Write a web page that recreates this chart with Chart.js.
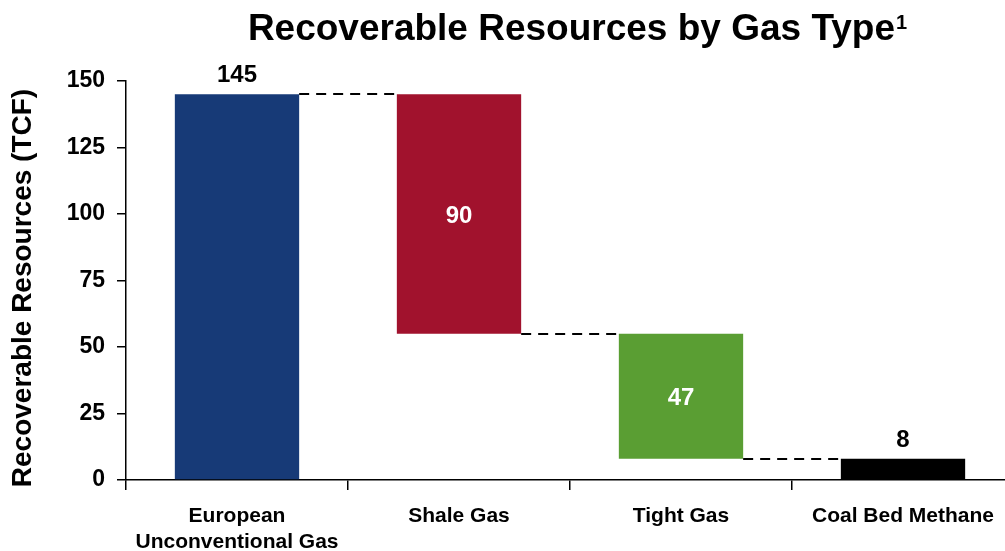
<!DOCTYPE html>
<html>
<head>
<meta charset="utf-8">
<script src="https://cdn.jsdelivr.net/npm/chart.js@4/dist/chart.umd.min.js"></script>
<style>
  html, body { margin: 0; padding: 0; background: #ffffff; overflow: hidden; width: 1005px; height: 551px; }
  #wrap { position: absolute; left: 0; top: 0; width: 1020px; height: 551px; }
</style>
</head>
<body>
<div id="wrap"><canvas id="c" width="1020" height="551"></canvas></div>
<script>
// ---- data ----
const categories = [["European", "Unconventional Gas"], "Shale Gas", "Tight Gas", "Coal Bed Methane"];
const values = [145, 90, 47, 8];
const kinds = ["total", "decrease", "decrease", "total"];
const barColors = ["#173A77", "#A1122D", "#5A9E33", "#000000"];
const labelColors = ["#000000", "#ffffff", "#ffffff", "#000000"];
const yTicks = [0, 25, 50, 75, 100, 125, 150];
const chartTitle = "Recoverable Resources by Gas Type";
const titleNote = "1";
const yTitle = "Recoverable Resources (TCF)";

// build floating ranges for the waterfall
const ranges = [];
const levels = [];
let running = 0;
values.forEach((v, i) => {
  if (kinds[i] === "total") { ranges.push([0, v]); running = v; }
  else { ranges.push([running - v, running]); running -= v; }
  levels.push(running);
});

const FONT = "'Liberation Sans', Arial, Helvetica, sans-serif";

const waterfallPlugin = {
  id: "waterfall",
  afterDatasetsDraw(chart) {
    const ctx = chart.ctx;
    const meta = chart.getDatasetMeta(0);
    const y = chart.scales.y;
    ctx.save();
    // connectors
    ctx.strokeStyle = "#000";
    ctx.lineWidth = 2;
    ctx.setLineDash([10, 7]);
    for (let i = 0; i < meta.data.length - 1; i++) {
      const a = meta.data[i], b = meta.data[i + 1];
      const py = Math.round(y.getPixelForValue(levels[i]));
      ctx.beginPath();
      ctx.moveTo(a.x + a.width / 2, py);
      ctx.lineTo(b.x - b.width / 2, py);
      ctx.stroke();
    }
    ctx.setLineDash([]);
    // value labels
    ctx.font = "bold 24px " + FONT;
    ctx.textAlign = "center";
    meta.data.forEach((bar, i) => {
      const top = y.getPixelForValue(ranges[i][1]);
      const bot = y.getPixelForValue(ranges[i][0]);
      ctx.fillStyle = labelColors[i];
      if (kinds[i] === "total") {
        ctx.textBaseline = "alphabetic";
        ctx.fillText(String(values[i]), bar.x, top - 12);
      } else {
        ctx.textBaseline = "middle";
        ctx.fillText(String(values[i]), bar.x, (top + bot) / 2 + 2);
      }
    });
    ctx.restore();
  },
  afterDraw(chart) {
    const ctx = chart.ctx;
    ctx.save();
    ctx.fillStyle = "#000";
    ctx.textBaseline = "alphabetic";
    ctx.textAlign = "left";
    ctx.font = "bold 37px " + FONT;
    const w1 = ctx.measureText(chartTitle).width;
    ctx.font = "bold 20px " + FONT;
    const w2 = ctx.measureText(titleNote).width;
    const x0 = 577 - (w1 + w2) / 2;
    ctx.font = "bold 37px " + FONT;
    ctx.fillText(chartTitle, x0, 40);
    ctx.font = "bold 20px " + FONT;
    ctx.fillText(titleNote, x0 + w1 + 1, 29);
    // y axis title
    ctx.translate(23, 288);
    ctx.rotate(-Math.PI / 2);
    ctx.textAlign = "center";
    ctx.textBaseline = "middle";
    ctx.font = "bold 28px " + FONT;
    ctx.fillText(yTitle, 0, 0);
    ctx.restore();
  }
};

new Chart(document.getElementById("c"), {
  type: "bar",
  data: {
    labels: categories,
    datasets: [{
      data: ranges,
      backgroundColor: barColors,
      borderWidth: 0,
      barPercentage: 0.56,
      categoryPercentage: 1.0
    }]
  },
  options: {
    responsive: false,
    animation: false,
    devicePixelRatio: 1,
    layout: { padding: { left: 0, top: 81, right: 6, bottom: 0 } },
    plugins: { legend: { display: false }, tooltip: { enabled: false }, title: { display: false } },
    scales: {
      x: {
        offset: true,
        grid: { display: true, drawOnChartArea: false, drawTicks: true, tickLength: 10, color: "#000", lineWidth: 1.5, offset: true },
        border: { display: true, color: "#000", width: 1.5 },
        ticks: { color: "#000", font: { family: FONT, size: 21, weight: "bold", lineHeight: 1.2 }, padding: 14, maxRotation: 0, autoSkip: false },
        afterFit(scale) { scale.height = 71; }
      },
      y: {
        min: 0, max: 150,
        afterBuildTicks(scale) { scale.ticks = yTicks.map(v => ({ value: v })); },
        grid: { display: true, drawOnChartArea: false, drawTicks: true, tickLength: 9, color: "#000", lineWidth: 1.5 },
        border: { display: true, color: "#000", width: 1.5 },
        ticks: { color: "#000", font: { family: FONT, size: 23, weight: "bold" }, padding: 12 },
        title: { display: false },
        afterFit(scale) { scale.width = 126; }
      }
    }
  },
  plugins: [waterfallPlugin]
});
</script>
</body>
</html>
